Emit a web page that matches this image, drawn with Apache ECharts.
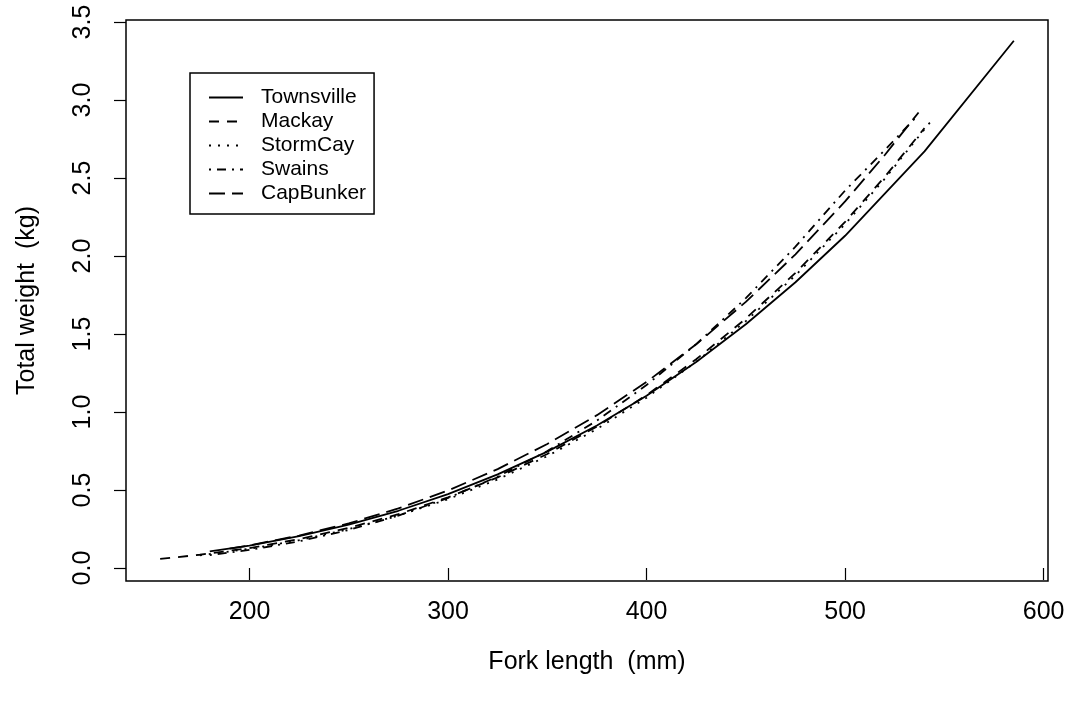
<!DOCTYPE html>
<html>
<head>
<meta charset="utf-8">
<script src="https://cdn.jsdelivr.net/npm/echarts@6/dist/echarts.min.js"></script>
<style>
  html, body { margin: 0; padding: 0; background: #fff; }
  #chart { width: 1069px; height: 706px; }
</style>
</head>
<body>
<div id="chart"></div>
<script>
// axis ticks
const xTicks = [200, 300, 400, 500, 600];
const yTicks = [0, 0.5, 1, 1.5, 2, 2.5, 3, 3.5];

// fork length (mm) / total weight (kg)
const townsvilleL = [180, 200, 225, 250, 275, 300, 325, 350, 375, 400, 425, 450, 475, 500, 540, 585];
const townsvilleW = [0.106, 0.144, 0.204, 0.278, 0.367, 0.474, 0.600, 0.746, 0.914, 1.105, 1.321, 1.563, 1.832, 2.13, 2.671, 3.38];

const mackayL = [155, 175, 200, 225, 250, 275, 300, 325, 350, 375, 400, 425, 450, 475, 500, 520, 540];
const mackayW = [0.058, 0.085, 0.128, 0.185, 0.257, 0.345, 0.453, 0.581, 0.731, 0.907, 1.108, 1.338, 1.599, 1.892, 2.219, 2.508, 2.82];

const stormCayL = [175, 200, 225, 250, 275, 300, 325, 350, 375, 400, 425, 450, 475, 500, 520, 543];
const stormCayW = [0.081, 0.123, 0.178, 0.249, 0.336, 0.441, 0.568, 0.717, 0.891, 1.092, 1.322, 1.583, 1.876, 2.205, 2.496, 2.86];

const swainsL = [180, 200, 225, 250, 275, 300, 325, 350, 375, 400, 425, 450, 475, 500, 520, 535];
const swainsW = [0.082, 0.116, 0.171, 0.244, 0.336, 0.449, 0.586, 0.750, 0.945, 1.173, 1.435, 1.730, 2.060, 2.42, 2.68, 2.88];

const capBunkerL = [190, 200, 225, 250, 275, 300, 325, 350, 375, 400, 425, 450, 475, 500, 520, 537];
const capBunkerW = [0.124, 0.145, 0.208, 0.286, 0.382, 0.497, 0.634, 0.795, 0.980, 1.193, 1.434, 1.706, 2.011, 2.35, 2.648, 2.92];

function pairs(xs, ys) {
  return xs.map((x, i) => [x, ys[i]]);
}

const FONT = 'Liberation Sans, Arial, sans-serif';

function lineSeries(name, xs, ys, dash) {
  return {
    name: name,
    type: 'line',
    symbol: 'none',
    showSymbol: false,
    smooth: false,
    silent: true,
    itemStyle: { color: '#000' },
    lineStyle: { color: '#000', width: 1.8, type: dash },
    data: pairs(xs, ys)
  };
}

const chart = echarts.init(document.getElementById('chart'), null, { renderer: 'canvas' });
chart.setOption({
  animation: false,
  backgroundColor: '#fff',
  grid: {
    left: 126,
    right: 21,
    top: 20,
    bottom: 125,
    show: true,
    borderColor: '#000',
    borderWidth: 1.5,
    backgroundColor: 'transparent'
  },
  legend: {
    orient: 'vertical',
    left: 190,
    top: 73,
    padding: [14, 8, 10, 18],
    itemWidth: 34,
    itemHeight: 14,
    itemGap: 3,
    borderColor: '#000',
    borderWidth: 1.5,
    backgroundColor: '#fff',
    itemStyle: { opacity: 0 },
    textStyle: {
      color: '#000',
      fontFamily: FONT,
      fontSize: 21,
      padding: [0, 0, 0, 13]
    },
    data: ['Townsville', 'Mackay', 'StormCay', 'Swains', 'CapBunker']
  },
  xAxis: {
    type: 'value',
    min: 137.8,
    max: 602.2,
    name: 'Fork length  (mm)',
    nameLocation: 'middle',
    nameGap: 69,
    nameTextStyle: { color: '#000', fontFamily: FONT, fontSize: 25 },
    axisLine: { show: false },
    axisTick: {
      show: true,
      length: 12,
      customValues: xTicks,
      lineStyle: { color: '#000', width: 1.2 }
    },
    axisLabel: {
      show: true,
      margin: 19,
      customValues: xTicks,
      color: '#000',
      fontFamily: FONT,
      fontSize: 25
    },
    splitLine: { show: false }
  },
  yAxis: {
    type: 'value',
    min: -0.0833,
    max: 3.5133,
    name: 'Total weight  (kg)',
    nameLocation: 'middle',
    nameRotate: 90,
    nameGap: 86,
    nameTextStyle: { color: '#000', fontFamily: FONT, fontSize: 25 },
    axisLine: { show: false },
    axisTick: {
      show: true,
      length: 12,
      customValues: yTicks,
      lineStyle: { color: '#000', width: 1.2 }
    },
    axisLabel: {
      show: true,
      rotate: 90,
      margin: 30,
      customValues: yTicks,
      color: '#000',
      fontFamily: FONT,
      fontSize: 25,
      formatter: v => v.toFixed(1)
    },
    splitLine: { show: false }
  },
  series: [
    lineSeries('Townsville', townsvilleL, townsvilleW, 'solid'),
    lineSeries('Mackay', mackayL, mackayW, [10, 8]),
    lineSeries('StormCay', stormCayL, stormCayW, [2, 7]),
    lineSeries('Swains', swainsL, swainsW, [2, 6, 9, 6]),
    lineSeries('CapBunker', capBunkerL, capBunkerW, [16, 7])
  ]
});
</script>
</body>
</html>
